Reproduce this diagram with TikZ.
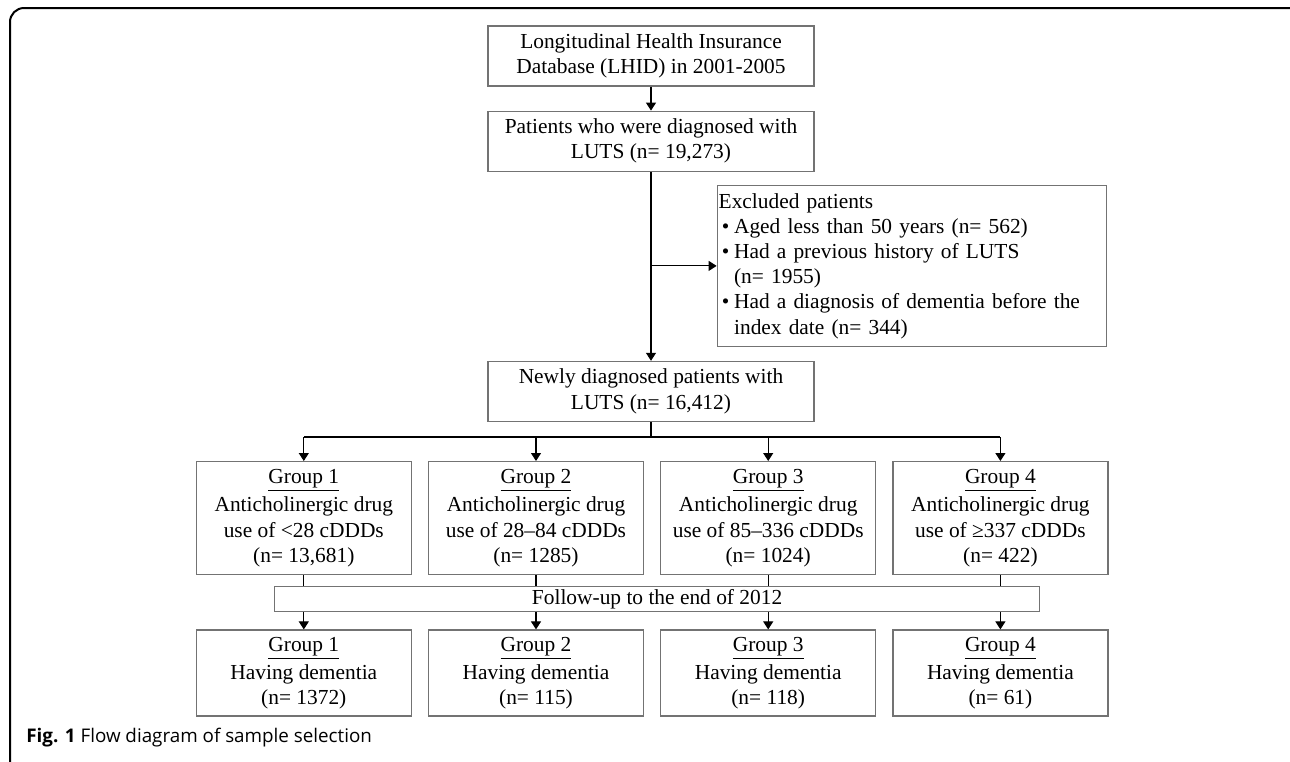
\documentclass[tikz,border=0pt]{standalone}
\usepackage{fontspec}
\setmainfont{Liberation Serif}
\newfontfamily\capfont{Open Sans}
\usetikzlibrary{arrows.meta,positioning,calc}
\tikzset{
    %Define standard arrow tip
    >={Triangle[width=5pt,length=4pt]},
    %Define style for boxes
    flowbox/.style={
             rectangle,
             draw=black!55, line width=0.6pt,
             align=center, inner sep=0pt,
             minimum width=163pt, minimum height=30pt,
             font=\fontsize{10.7pt}{12.6pt}\selectfont},
    exclbox/.style={
             flowbox,
             align=left, text width=193pt, inner xsep=0.6pt,
             minimum width=194.5pt, minimum height=80.5pt},
    groupbox/.style={
             flowbox,
             minimum width=107.5pt, minimum height=56.5pt,
             font=\fontsize{10.7pt}{12.8pt}\selectfont},
    outbox/.style={
             groupbox,
             minimum height=43pt,
             font=\fontsize{10.7pt}{12.4pt}\selectfont},
    barbox/.style={
             flowbox,
             minimum width=382.5pt, minimum height=12.5pt},
    % Define arrow style
    flowarrow/.style={
            ->,
            line width=0.55pt},
    flowline/.style={
            line width=0.55pt}
}
\newcommand{\exitem}{\makebox[0.72em][l]{\hspace{0.15em}\textbullet}}
\newcommand{\exindent}{\hspace*{0.72em}}
\newcommand{\grphead}[1]{\underline{Group #1}\\[1.5pt]}

\begin{document}
\begin{tikzpicture}[x=0.5pt, y=-0.5pt]
 \useasboundingbox (0,0) rectangle (1290,761);
 \clip (0,0) rectangle (1290,761);
 % outer frame
 \draw[line width=1pt, rounded corners=7pt] (10,8) rectangle (1320,776);
 \node[flowbox] (lhid) at (651,56) {Longitudinal Health Insurance\\Database (LHID) in 2001-2005};
 \node[flowbox, below=12pt of lhid] (patients) {Patients who were diagnosed with\\LUTS (n= 19,273)};
 \node[exclbox, below right=6.5pt and -49pt of patients] (excl) {Excluded patients\\
   \exitem Aged less than 50 years (n= 562)\\
   \exitem Had a previous history of LUTS\\
   \exindent (n= 1955)\\
   \exitem Had a diagnosis of dementia before the\\
   \exindent index date (n= 344)};
 \node[flowbox, below=94.5pt of patients] (newly) {Newly diagnosed patients with\\LUTS (n= 16,412)};
 % groups by cumulative dose
 \node[groupbox, below=19.5pt of newly, xshift=-57.5pt] (g2) {\grphead{2}Anticholinergic drug\\use of 28–84 cDDDs\\(n= 1285)};
 \node[groupbox, left=8pt of g2] (g1) {\grphead{1}Anticholinergic drug\\use of <28 cDDDs\\(n= 13,681)};
 \node[groupbox, right=8pt of g2] (g3) {\grphead{3}Anticholinergic drug\\use of 85–336 cDDDs\\(n= 1024)};
 \node[groupbox, right=8pt of g3] (g4) {\grphead{4}Anticholinergic drug\\use of ≥337 cDDDs\\(n= 422)};
 \coordinate (mid) at ($(g2.south)!0.5!(g3.south)$);
 \node[barbox, below=5.5pt of mid, xshift=2.5pt] (follow) {Follow-up to the end of 2012};
 % outcomes
 \foreach \i/\n in {1/1372, 2/115, 3/118, 4/61} {
   \coordinate (f\i) at (g\i.south |- follow.south);
   \node[outbox, below=8.5pt of f\i] (d\i) {\grphead{\i}Having dementia\\(n= \n)};
 }
 % connectors
 \draw[flowarrow] (lhid) -- (patients);
 \draw[flowarrow] (patients) -- (newly);
 \coordinate (branch) at (patients.south |- excl.west);
 \draw[flowarrow] (branch) -- (excl.west);
 \draw[flowline] (newly.south) -- ++(0,15) coordinate (fork);
 \draw[flowline] (g1.north |- fork) -- (g4.north |- fork);
 \foreach \i in {1,...,4} {
   \draw[flowarrow] (g\i.north |- fork) -- (g\i.north);
   \draw[flowline] (g\i.south) -- (g\i.south |- follow.north);
   \draw[flowarrow] (f\i) -- (d\i.north);
 }
 \node[anchor=base west, inner sep=0pt, font=\capfont\fontsize{9.4pt}{11pt}\selectfont] (caption) at (26,742) {\textbf{Fig. 1} Flow diagram of sample selection};
\end{tikzpicture}
\end{document}
